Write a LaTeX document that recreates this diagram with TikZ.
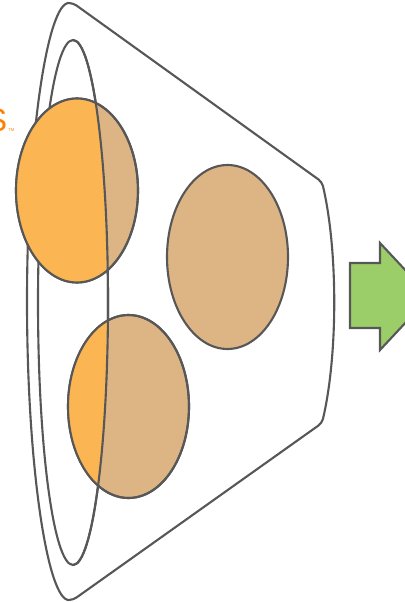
\documentclass[tikz,border=0pt]{standalone}
\usepackage{fontspec}
\setmainfont{Liberation Sans}
\usetikzlibrary{calc}
\definecolor{cupline}{HTML}{575757}
\definecolor{ballorange}{HTML}{FBB553}
\definecolor{balltan}{HTML}{DDB584}
\definecolor{arrowgreen}{HTML}{9BCD69}
\def\ball[#1](#2)(#3:#4){\path[#1] (#2) ellipse (#3 and #4);}

\begin{document}
\begin{tikzpicture}[x=0.025cm, y=-0.025cm]
		%%%%% START %%%%%
		\useasboundingbox (0, 0) rectangle (405, 602);
		
		% cup
		\draw[line width=1.5pt, color=cupline, rounded corners=3pt] (73, 600) arc (90:270:46 and 298.5) -- (322, 182) .. controls (338, 250) and (338, 355) .. (322, 423) -- cycle;
		\draw[line width=1.5pt, color=cupline] (73, 302.5) ellipse (35 and 262.5);
		
		% balls
		\ball[line width=1.5pt, draw=cupline, fill=balltan](77, 190.5)(61:92);
		\ball[line width=1.5pt, draw=cupline, fill=balltan](227.5, 257)(60.5:92);
		\ball[line width=1.5pt, draw=cupline, fill=balltan](128.5, 406.5)(60.5:91.5);
		
		\begin{scope}
			\clip (73, 565) arc (90:-90:35 and 262.5) -- (-20, 40) -- (-20, 565) -- cycle;
			\ball[fill=ballorange](77, 190.5)(61:92);
			\ball[fill=ballorange](128.5, 406.5)(60.5:91.5);
		\end{scope}
		\ball[line width=1.5pt, draw=cupline](77, 190.5)(61:92);
		\ball[line width=1.5pt, draw=cupline](128.5, 406.5)(60.5:91.5);
		\draw[line width=1.5pt, color=cupline] (73, 565) arc (90:-90:35 and 262.5);
		
		% arrow
		\draw[line width=1.5pt, draw=cupline, fill=arrowgreen] (350, 263) -- (380, 263) -- (380, 243) -- (430, 296.5) -- (380, 350) -- (380, 328) -- (350, 328) -- cycle;
		
		% logo
		\node[anchor=base east, inner sep=0, color=orange, font=\fontsize{23pt}{23pt}\selectfont] (logo) at (7.5, 132) {S};
		\node[anchor=base west, inner sep=0, color=orange, font=\fontsize{3pt}{3pt}\selectfont] (trademark) at (8, 132) {TM};
		%%%%% END %%%%%
	\end{tikzpicture}
\end{document}
